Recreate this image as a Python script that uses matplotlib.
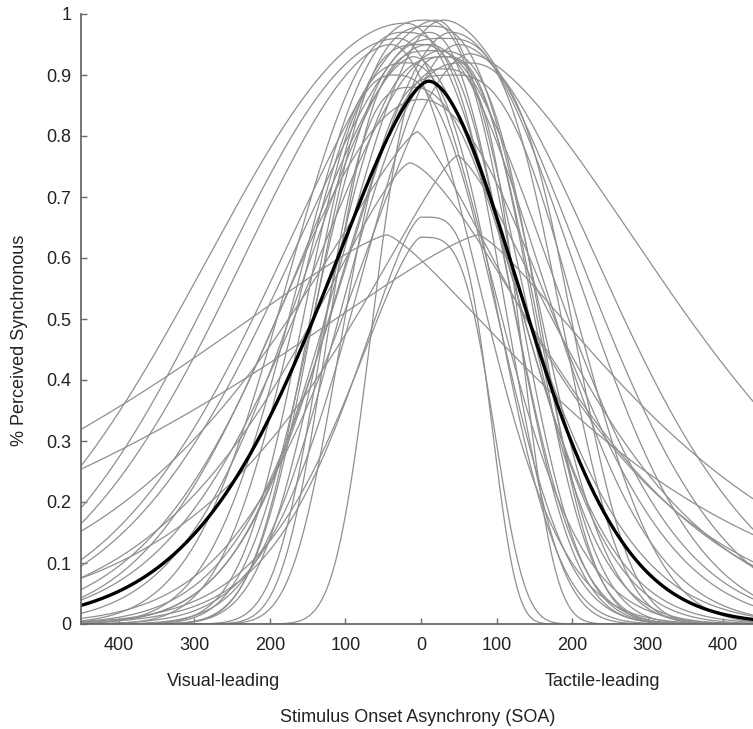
import numpy as np
import matplotlib
matplotlib.use("Agg")
import matplotlib.pyplot as plt

plt.rcParams['font.family'] = ['Liberation Sans', 'DejaVu Sans']

# === DATA ===
# each participant curve: peak position (SOA, ms), peak height, and width/shape of each flank
peak_soa   = [-20, 65, -45, 76, 0, 0, -5, 48, -15, -30, -40, 20, 10, -10, 25, 40, 30, 50,
              -20, 0, 15, -35, 35, 5, 20, -10, 30, 45, -25, 10, 55, 0, 25, 30]
peak_val   = [0.985, 0.935, 0.638, 0.638, 0.634, 0.667, 0.807, 0.768, 0.756, 0.96, 0.95, 0.99,
              0.97, 0.93, 0.94, 0.97, 0.99, 0.95, 0.92, 0.95, 0.98, 0.90, 0.93, 0.99, 0.94, 0.88,
              0.96, 0.90, 0.97, 0.95, 0.92, 0.86, 0.91, 0.93]
left_width  = [372, 220, 537, 560, 150, 140, 300, 260, 240, 330, 300, 300, 280, 240, 250, 200,
               190, 180, 180, 170, 180, 150, 190, 210, 160, 140, 200, 170, 200, 230, 200, 260,
               190, 110]
left_shape  = [2.0, 1.8, 1.3, 1.3, 1.5, 1.5, 1.3, 1.3, 1.4, 2.0, 1.8, 1.8, 1.7, 1.7, 1.8, 1.9,
               2.0, 2.0, 2.5, 3.0, 3.0, 2.5, 3.0, 2.5, 3.5, 3.0, 3.0, 3.5, 2.2, 2.0, 2.5, 2.0,
               2.0, 3.0]
right_width = [190, 389, 360, 330, 108, 102, 254, 230, 280, 170, 160, 150, 140, 200, 220, 230,
               260, 280, 150, 150, 170, 170, 140, 150, 160, 190, 180, 200, 160, 210, 170, 240,
               120, 150]
right_shape = [2.0, 1.6, 1.3, 1.3, 3.5, 4.0, 1.3, 1.4, 1.5, 2.0, 2.0, 2.0, 2.2, 1.8, 1.8, 2.0,
               1.9, 1.8, 2.5, 2.5, 2.5, 2.5, 2.5, 2.5, 3.0, 2.2, 3.0, 2.5, 3.0, 2.0, 3.0, 2.0,
               3.5, 2.5]

# group curve (thick black)
mean_params = dict(mu=10, amp=0.89, wl=215, pl=1.6, wr=180, pr=1.8)

x_ticks = [-400, -300, -200, -100, 0, 100, 200, 300, 400]
y_ticks = [0, 0.1, 0.2, 0.3, 0.4, 0.5, 0.6, 0.7, 0.8, 0.9, 1.0]


def sj_curve(x, mu, amp, wl, pl, wr, pr):
    d = x - mu
    left = amp * np.exp(-(np.abs(d) / wl) ** pl)
    right = amp * np.exp(-(np.abs(d) / wr) ** pr)
    return np.where(d < 0, left, right)


soa = np.linspace(-450, 450, 1801)

fig = plt.figure(figsize=(7.53, 7.29), dpi=100)
ax = fig.add_axes([81 / 753, 105 / 729, 680 / 753, 610 / 729])

for i in range(len(peak_soa)):
    y = sj_curve(soa, peak_soa[i], peak_val[i], left_width[i], left_shape[i],
                 right_width[i], right_shape[i])
    ax.plot(soa, y, color="#8f8f8f", lw=0.9)

ax.plot(soa, sj_curve(soa, **mean_params), color="black", lw=2.4)

ax.set_xlim(-450, 450)
ax.set_ylim(0, 1)
ax.set_xticks(x_ticks)
ax.set_xticklabels([str(abs(t)) for t in x_ticks])
ax.set_yticks(y_ticks)
ax.set_yticklabels(["0", "0.1", "0.2", "0.3", "0.4", "0.5", "0.6", "0.7", "0.8", "0.9", "1"])
ax.tick_params(direction="in", length=4, width=1, color="#6a6a6a", labelsize=13,
               labelcolor="#222222")
ax.tick_params(axis="y", pad=7)
ax.tick_params(axis="x", pad=9)

for s in ["top", "right"]:
    ax.spines[s].set_visible(False)
for s in ["left", "bottom"]:
    ax.spines[s].set_color("#6a6a6a")
    ax.spines[s].set_linewidth(1.3)

fig.text(224 / 753, 1 - 682 / 729, "Visual-leading", ha="center", va="center", fontsize=13,
         color="#222222")
fig.text(602 / 753, 1 - 682 / 729, "Tactile-leading", ha="center", va="center", fontsize=13,
         color="#222222")
fig.text(418 / 753, 1 - 718 / 729, "Stimulus Onset Asynchrony (SOA)", ha="center", va="center",
         fontsize=13, color="#222222")
fig.text(20 / 753, 1 - 340 / 729, "% Perceived Synchronous", ha="center", va="center",
         rotation=90, fontsize=13, color="#222222")

fig.savefig("out.png", dpi=100)
